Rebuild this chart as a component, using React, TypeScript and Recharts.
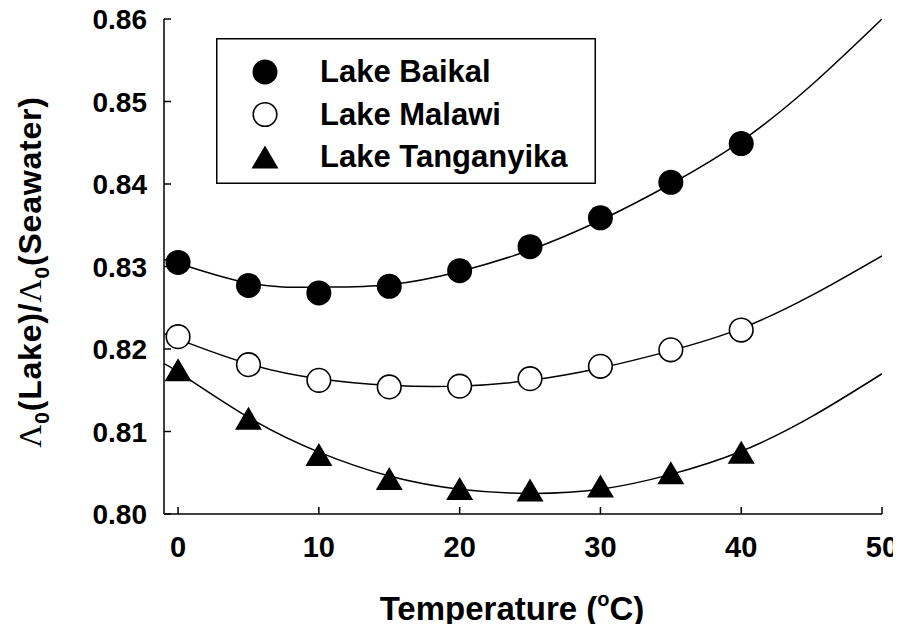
import React from "react";
import { ComposedChart, XAxis, YAxis, Line, Scatter, Legend } from "recharts";

// Measured temperatures (°C)
const TEMPS = [0, 5, 10, 15, 20, 25, 30, 35, 40];
// Measured ratios
const BAIKAL = [0.8305, 0.8277, 0.8268, 0.8276, 0.8295, 0.8324, 0.8359, 0.8402, 0.8449];
const MALAWI = [0.8215, 0.8181, 0.8162, 0.8154, 0.8155, 0.8164, 0.8179, 0.8199, 0.8223];
const TANGANYIKA = [0.8175, 0.8116, 0.8072, 0.8043, 0.8031, 0.8029, 0.8034, 0.805, 0.8075];

// Fitted curves
const FIT_X = [-1, 0, 5, 10, 15, 20, 25, 30, 35, 40, 45, 50];
const BAIKAL_FIT = [0.8307, 0.8304, 0.828, 0.8275, 0.8278, 0.8294, 0.832, 0.8356, 0.84, 0.8452, 0.852, 0.86];
const MALAWI_FIT = [0.8219, 0.8212, 0.8182, 0.8164, 0.8156, 0.8155, 0.8162, 0.8177, 0.8198, 0.8225, 0.8265, 0.8313];
const TANGANYIKA_FIT = [0.8181, 0.8172, 0.8117, 0.8075, 0.8046, 0.803, 0.8025, 0.803, 0.8048, 0.8076, 0.8118, 0.817];

const X_TICKS = [0, 10, 20, 30, 40, 50];
const Y_TICKS = [0.8, 0.81, 0.82, 0.83, 0.84, 0.85, 0.86];
const SERIES_NAMES = ["Lake Baikal", "Lake Malawi", "Lake Tanganyika"];

const FONT = "'Liberation Sans', Arial, Helvetica, sans-serif";

const toPoints = (xs: number[], ys: number[]) => xs.map((x, i) => ({ x, y: ys[i] }));

const baikalPts = toPoints(TEMPS, BAIKAL);
const malawiPts = toPoints(TEMPS, MALAWI);
const tangPts = toPoints(TEMPS, TANGANYIKA);
const baikalFit = toPoints(FIT_X, BAIKAL_FIT);
const malawiFit = toPoints(FIT_X, MALAWI_FIT);
const tangFit = toPoints(FIT_X, TANGANYIKA_FIT);

const FilledCircle = (p: any) => <circle cx={p.cx} cy={p.cy} r={12.5} fill="#000" />;
const OpenCircle = (p: any) => (
  <circle cx={p.cx} cy={p.cy} r={11.8} fill="#fff" stroke="#000" strokeWidth={1.6} />
);
const Triangle = (p: any) => (
  <path
    d={`M${p.cx},${p.cy - 11.5} L${p.cx + 13.5},${p.cy + 11.5} L${p.cx - 13.5},${p.cy + 11.5} Z`}
    fill="#000"
  />
);

const BottomTick = (p: any) => {
  const { x, y, payload } = p;
  return (
    <g>
      <line x1={x} y1={y} x2={x} y2={y - 7} stroke="#000" strokeWidth={1.5} />
      <text x={x} y={y + 43} textAnchor="middle" fontSize={29} fontWeight="bold" fontFamily={FONT} fill="#000">
        {payload.value}
      </text>
    </g>
  );
};
const TopTick = (p: any) => {
  const { x, y } = p;
  return <line x1={x} y1={y} x2={x} y2={y + 7} stroke="#000" strokeWidth={1.5} />;
};
const LeftTick = (p: any) => {
  const { x, y, payload } = p;
  return (
    <g>
      <line x1={x} y1={y} x2={x + 7} y2={y} stroke="#000" strokeWidth={1.5} />
      <text x={x - 17} y={y + 10} textAnchor="end" fontSize={28} fontWeight="bold" fontFamily={FONT} fill="#000">
        {Number(payload.value).toFixed(2)}
      </text>
    </g>
  );
};
const RightTick = (p: any) => {
  const { x, y } = p;
  return <line x1={x} y1={y} x2={x - 7} y2={y} stroke="#000" strokeWidth={1.5} />;
};

const XTitle = () => (
  <text x={512} y={620} textAnchor="middle" fontSize={33} fontWeight="bold" fontFamily={FONT} fill="#000">
    <tspan>Temperature (</tspan>
    <tspan fontSize={20} dy={-14}>o</tspan>
    <tspan dy={14}>C)</tspan>
  </text>
);

const YTitle = () => (
  <text
    x={41}
    y={272}
    transform="rotate(-90 41 272)"
    textAnchor="middle"
    fontSize={32}
    fontWeight="bold"
    fontFamily={FONT}
    fill="#000"
    letterSpacing={0.8}
  >
    <tspan fontFamily="'Liberation Serif', 'Times New Roman', serif" fontWeight="normal">Λ</tspan>
    <tspan fontSize={21} dy={8}>0</tspan>
    <tspan dy={-8}>(Lake)/</tspan>
    <tspan fontFamily="'Liberation Serif', 'Times New Roman', serif" fontWeight="normal">Λ</tspan>
    <tspan fontSize={21} dy={8}>0</tspan>
    <tspan dy={-8}>(Seawater)</tspan>
  </text>
);

const LegendBox = () => {
  const shapes = [
    (cx: number, cy: number) => <circle cx={cx} cy={cy} r={12.5} fill="#000" />,
    (cx: number, cy: number) => <circle cx={cx} cy={cy} r={11.8} fill="#fff" stroke="#000" strokeWidth={1.6} />,
    (cx: number, cy: number) => (
      <path d={`M${cx},${cy - 11.5} L${cx + 13.5},${cy + 11.5} L${cx - 13.5},${cy + 11.5} Z`} fill="#000" />
    ),
  ];
  return (
    <svg width={380} height={146} style={{ display: "block" }}>
      <rect x={0.75} y={0.75} width={378.5} height={144.5} fill="#fff" stroke="#000" strokeWidth={1.5} />
      {SERIES_NAMES.map((name, i) => {
        const cy = 34 + i * 42.5;
        return (
          <g key={name}>
            {shapes[i](49, cy)}
            <text x={104} y={cy + 10} fontSize={31} fontWeight="bold" fontFamily={FONT} fill="#000">
              {name}
            </text>
          </g>
        );
      })}
    </svg>
  );
};

export default function App() {
  return (
    <div style={{ margin: -8, width: 901, height: 632 }}>
      <ComposedChart width={901} height={632} margin={{ top: 19, right: 19, left: 0, bottom: 0 }}>
        <XAxis
          xAxisId={0}
          dataKey="x"
          type="number"
          domain={[-1, 50]}
          ticks={X_TICKS}
          interval={0}
          allowDataOverflow
          height={118}
          tickSize={0}
          tickMargin={0}
          tick={<BottomTick />}
          axisLine={{ stroke: "#000", strokeWidth: 1.5 }}
          tickLine={false}
          label={{ content: () => <XTitle /> }}
        />
        <XAxis
          xAxisId="top"
          orientation="top"
          dataKey="x"
          type="number"
          domain={[-1, 50]}
          ticks={X_TICKS}
          interval={0}
          allowDataOverflow
          height={0}
          tickSize={0}
          tickMargin={0}
          tick={<TopTick />}
          axisLine={{ stroke: "#000", strokeWidth: 1.5 }}
          tickLine={false}
        />
        <YAxis
          yAxisId={0}
          type="number"
          domain={[0.8, 0.86]}
          ticks={Y_TICKS}
          interval={0}
          allowDataOverflow
          width={164}
          tickSize={0}
          tickMargin={0}
          tick={<LeftTick />}
          axisLine={{ stroke: "#000", strokeWidth: 1.5 }}
          tickLine={false}
          label={{ content: () => <YTitle /> }}
        />
        <YAxis
          yAxisId="right"
          orientation="right"
          type="number"
          domain={[0.8, 0.86]}
          ticks={Y_TICKS}
          interval={0}
          allowDataOverflow
          width={0}
          tickSize={0}
          tickMargin={0}
          tick={<RightTick />}
          axisLine={{ stroke: "#000", strokeWidth: 1.5 }}
          tickLine={false}
        />
        <Legend
          layout="vertical"
          align="center"
          verticalAlign="middle"
          content={() => <LegendBox />}
          wrapperStyle={{ position: "absolute", left: 216, top: 38, width: 380, height: 146 }}
        />
        <Line data={baikalFit} dataKey="y" type="natural" stroke="#000" strokeWidth={1.5} dot={false} isAnimationActive={false} legendType="none" />
        <Line data={malawiFit} dataKey="y" type="natural" stroke="#000" strokeWidth={1.5} dot={false} isAnimationActive={false} legendType="none" />
        <Line data={tangFit} dataKey="y" type="natural" stroke="#000" strokeWidth={1.5} dot={false} isAnimationActive={false} legendType="none" />
        <Scatter name={SERIES_NAMES[0]} data={baikalPts} dataKey="y" shape={<FilledCircle />} isAnimationActive={false} />
        <Scatter name={SERIES_NAMES[1]} data={malawiPts} dataKey="y" shape={<OpenCircle />} isAnimationActive={false} />
        <Scatter name={SERIES_NAMES[2]} data={tangPts} dataKey="y" shape={<Triangle />} isAnimationActive={false} />
      </ComposedChart>
    </div>
  );
}
